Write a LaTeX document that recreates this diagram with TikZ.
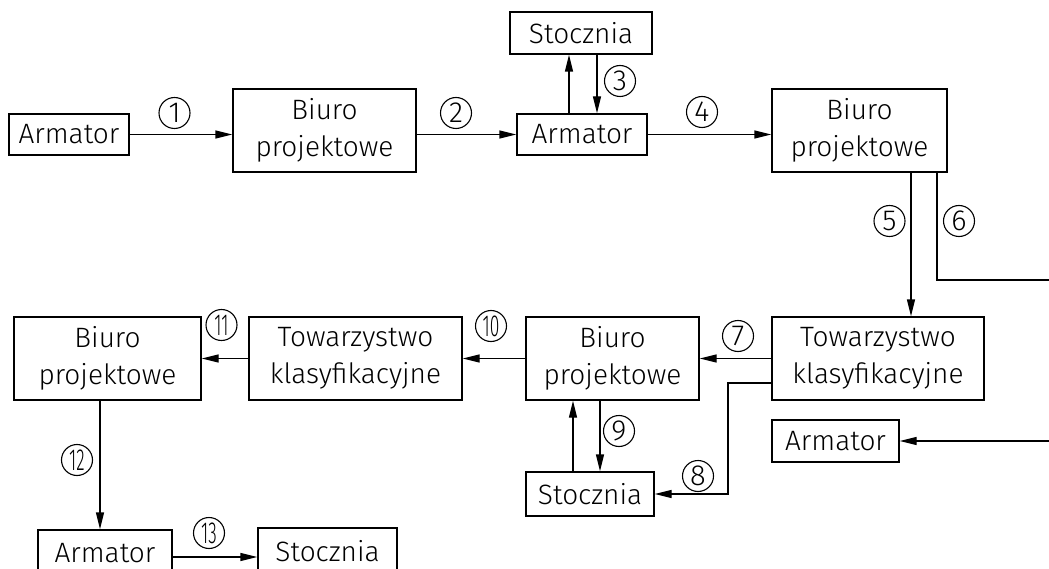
\documentclass[tikz,border=0pt]{standalone}
\usepackage{fontspec}
\setmainfont{Fira Sans Light}
\usetikzlibrary{arrows.meta}

\tikzset{
  box/.style={draw, align=center, inner sep=0pt, line width=1.3pt,
    font=\fontsize{28}{37}\selectfont},
  num/.style={circle, draw, inner sep=0pt, minimum size=31pt, line width=1.1pt,
    font=\fontsize{29}{29}\selectfont},
  flow/.style={line width=1.3pt, -{Triangle[length=17pt,width=8pt]}},
}
\newcommand{\twodig}[1]{\scalebox{0.6}[1.05]{#1}}

\begin{document}
\begin{tikzpicture}[x=1pt,y=-1pt]

        \useasboundingbox (0,0) rectangle (1049,569);
        \clip (0,0) rectangle (1049,569);

        \begin{scope}[every node/.style={box}]
          \node[minimum width=120, minimum height=41] (arm1) at (69,134.5)  {Armator};
          \node[minimum width=183, minimum height=83] (biu1) at (324.5,130.5) {Biuro\\projektowe};
          \node[minimum width=142, minimum height=42] (sto1) at (581,33)    {Stocznia};
          \node[minimum width=130, minimum height=41] (arm2) at (582,134.5) {Armator};
          \node[minimum width=175, minimum height=83] (biu2) at (859.5,130.5) {Biuro\\projektowe};
          \node[minimum width=212, minimum height=83] (tow1) at (878,358.5) {Towarzystwo\\klasyfikacyjne};
          \node[minimum width=173, minimum height=83] (biu3) at (612.5,358.5) {Biuro\\projektowe};
          \node[minimum width=128, minimum height=44] (sto2) at (590,494)   {Stocznia};
          \node[minimum width=127, minimum height=42] (arm3) at (835.5,441) {Armator};
          \node[minimum width=213, minimum height=83] (tow2) at (355.5,358.5) {Towarzystwo\\klasyfikacyjne};
          \node[minimum width=187, minimum height=83] (biu4) at (107.5,358.5) {Biuro\\projektowe};
          \node[minimum width=134, minimum height=46] (arm4) at (105,553)   {Armator};
          \node[minimum width=139, minimum height=46] (sto3) at (327.5,551) {Stocznia};
        \end{scope}

        % free ends at the right edge
        \coordinate (e6) at (1060,280);
        \coordinate (e3) at (1060,441);
        \coordinate (k8) at (728,383);

        \begin{scope}[every path/.style={flow}]
          \draw (arm1.east) -- (arm1.east -| biu1.west);
          \draw (biu1.east |- arm2.west) -- (arm2.west);
          \draw ([xshift=-13pt]arm2.north) -- ([xshift=-13pt]arm2.north |- sto1.south);
          \draw ([xshift=15pt]arm2.north |- sto1.south) -- ([xshift=15pt]arm2.north);
          \draw (arm2.east) -- (arm2.east -| biu2.west);
          \draw ([xshift=51.5pt]biu2.south) -- ([xshift=51.5pt]biu2.south |- tow1.north);
          \draw[-] ([xshift=77.5pt]biu2.south) |- (e6);
          \draw (tow1.west) -- (tow1.west -| biu3.east);
          \draw (tow1.west |- k8) -- (k8) |- (sto2.east);
          \draw ([xshift=-17pt]sto2.north) -- ([xshift=-17pt]sto2.north |- biu3.south);
          \draw ([xshift=10pt]sto2.north |- biu3.south) -- ([xshift=10pt]sto2.north);
          \draw (e3) -- (arm3.east);
          \draw (biu3.west) -- (biu3.west -| tow2.east);
          \draw (tow2.west) -- (tow2.west -| biu4.east);
          \draw ([xshift=-7.5pt]biu4.south) -- ([xshift=-7.5pt]biu4.south |- arm4.north);
          \draw ([yshift=-4pt]arm4.east) -- ([yshift=-4pt]arm4.east -| sto3.west);
        \end{scope}

        \begin{scope}[every node/.style={num}]
          \node (n1)  at (174.5,113) {1};
          \node (n2)  at (456,113)   {2};
          \node (n3)  at (620,81)    {3};
          \node (n4)  at (702,112)   {4};
          \node (n5)  at (889.5,221) {5};
          \node (n6)  at (959,221)   {6};
          \node (n7)  at (738,336)   {7};
          \node (n8)  at (698,476)   {8};
          \node (n9)  at (619,431)   {9};
          \node (n10) at (491,326)   {\twodig{10}};
          \node (n11) at (221.5,325) {\twodig{11}};
          \node (n12) at (77,460)    {\twodig{12}};
          \node (n13) at (209,533)   {\twodig{13}};
        \end{scope}

      \end{tikzpicture}
\end{document}
